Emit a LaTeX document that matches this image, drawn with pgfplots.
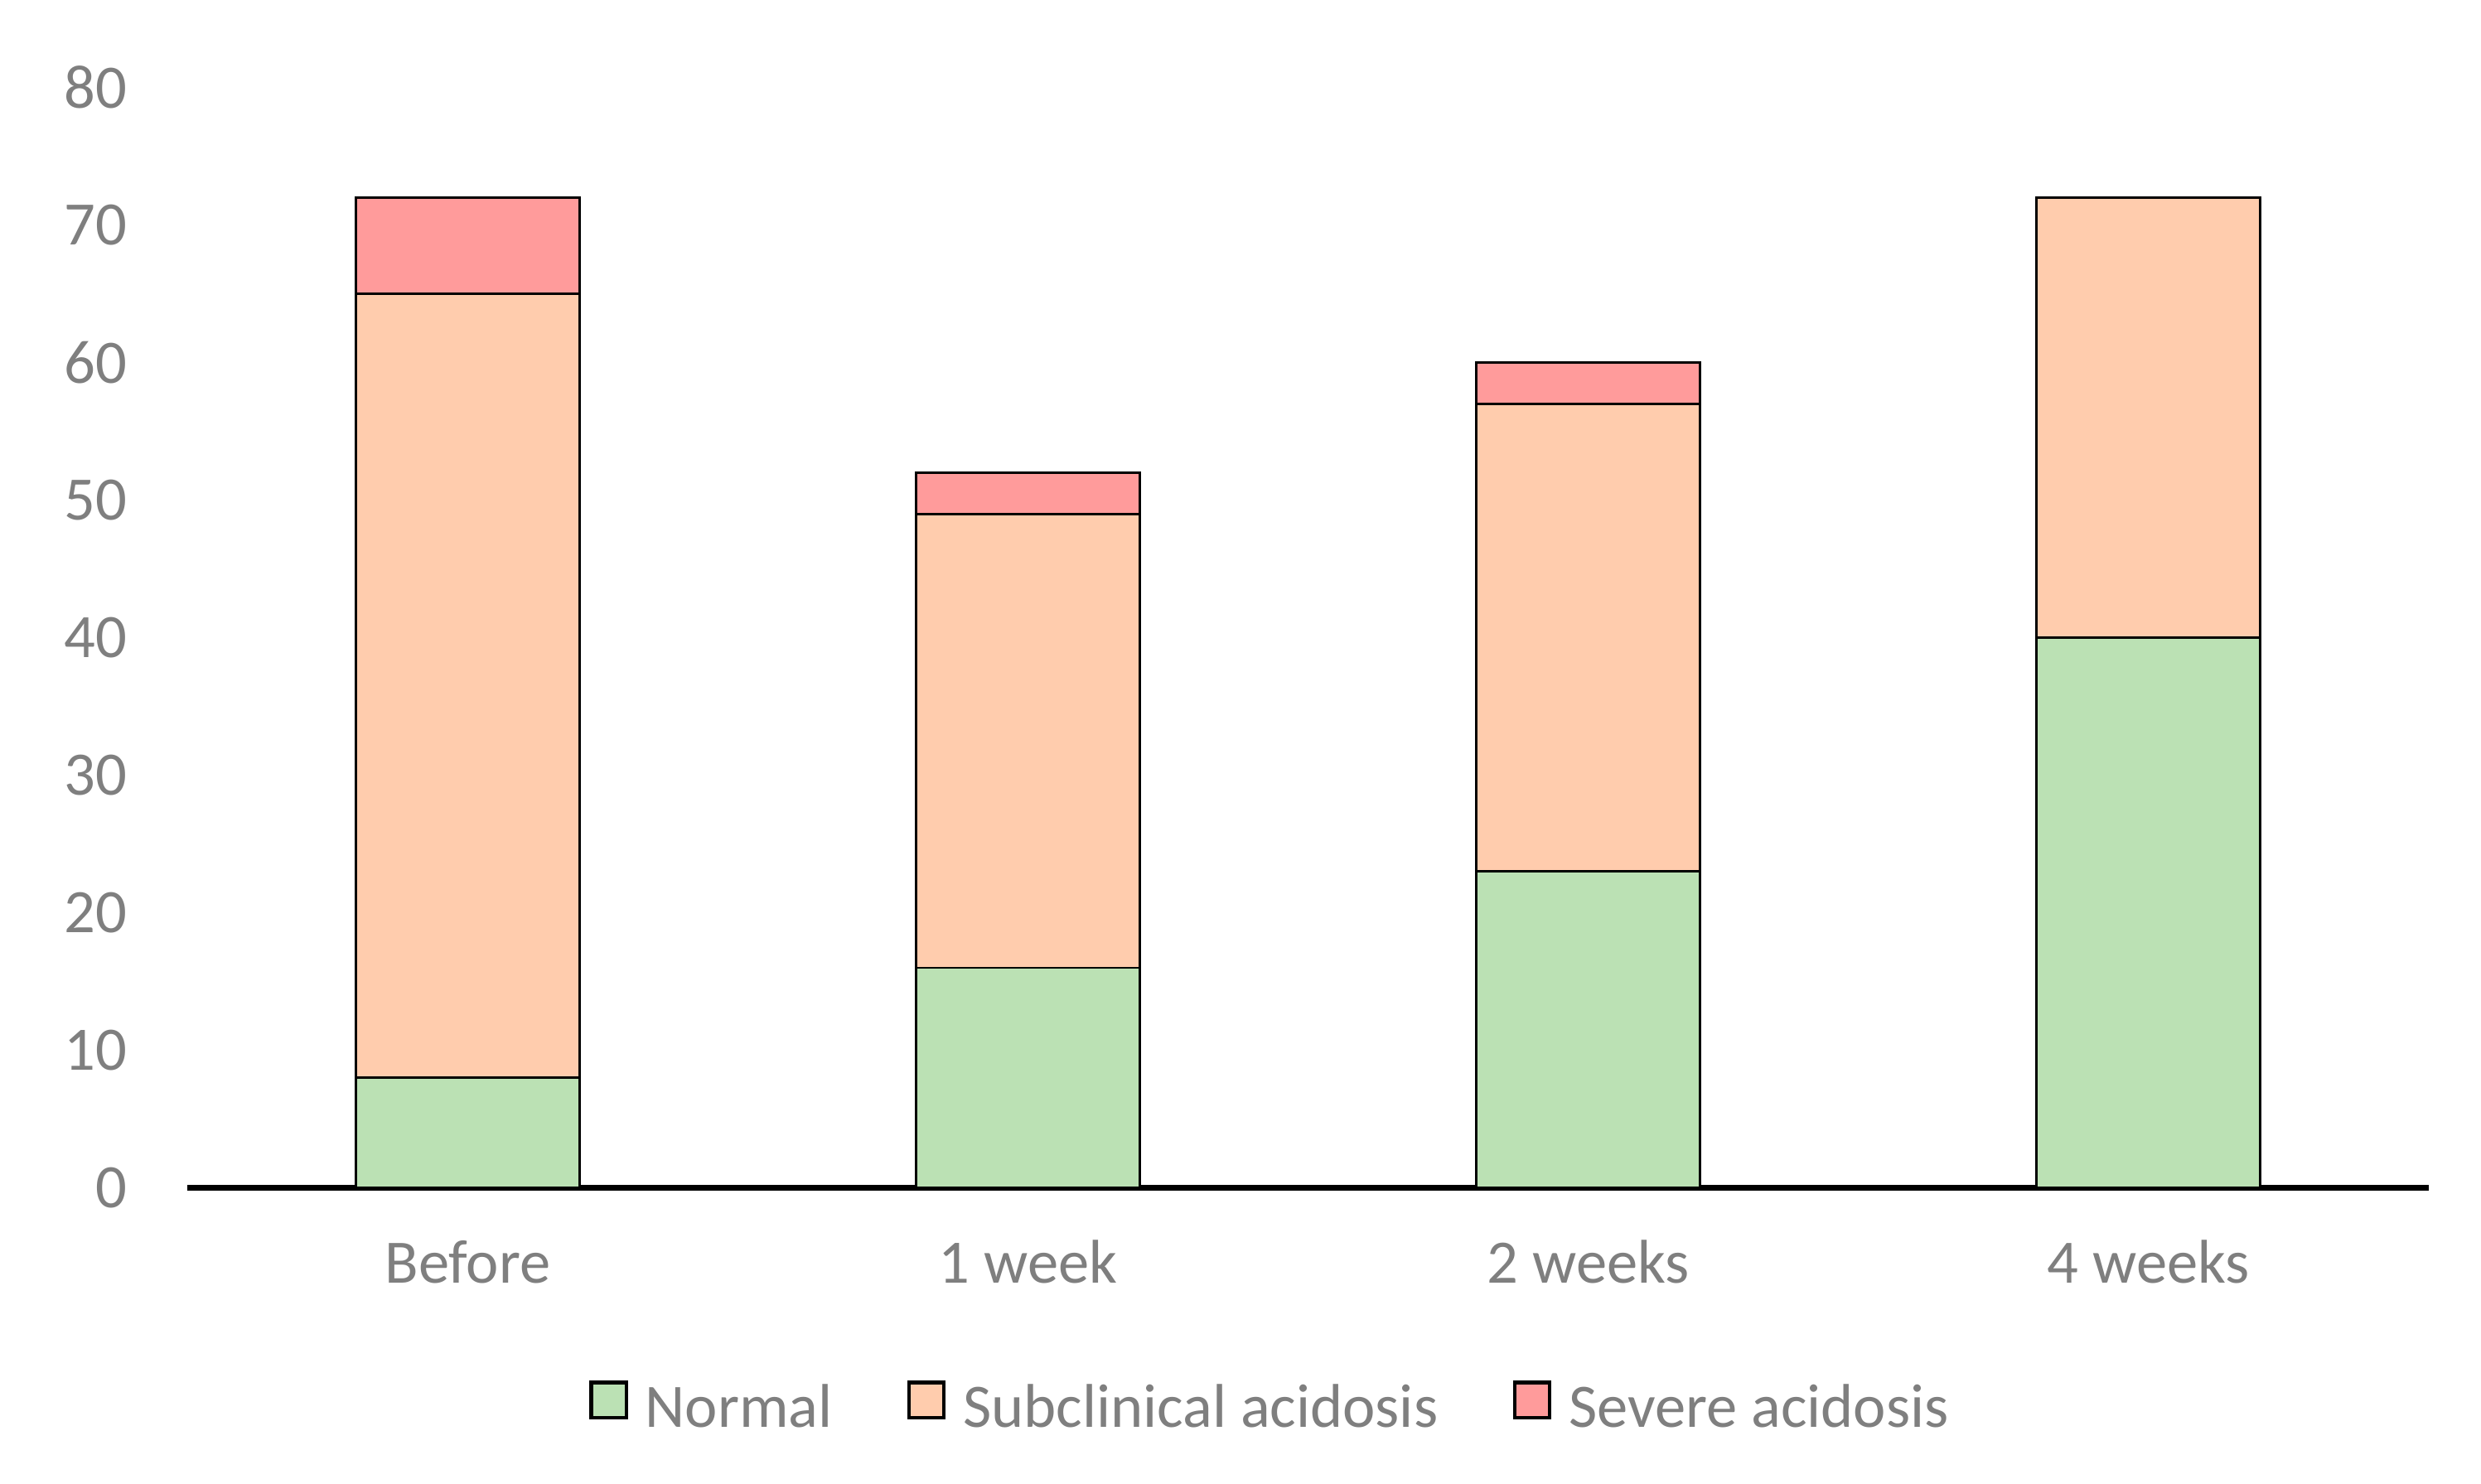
\documentclass[border=0pt]{standalone}
\usepackage{pgfplots}
\pgfplotsset{compat=1.18}
\usepackage{fontspec}
\setmainfont{Carlito}
\definecolor{normalc}{HTML}{BBE1B4}
\definecolor{subc}{HTML}{FFCCAD}
\definecolor{sevc}{HTML}{FF9B9B}
\definecolor{txt}{HTML}{7F7F7F}

\begin{document}
\begin{tikzpicture}
\useasboundingbox (-59bp,-93bp) rectangle (721bp,373.5bp);
\begin{axis}[
  scale only axis, width=704.5bp, height=346bp,
  clip=false,
  ybar stacked, bar width=0.4,
  xmin=-0.5, xmax=3.5, ymin=0, ymax=80,
  xtick=data, xticklabels={Before,1 week,2 weeks,4 weeks},
  ytick={0,10,...,80},
  axis line style={draw=none},
  major tick length=0pt,
  tick style={draw=none},
  /pgf/number format/assume math mode=true,
  ticklabel style={font=\fontsize{19.5}{23}\selectfont, text=txt},
  yticklabel style={xshift=-15.5bp},
  xticklabel style={yshift=-13bp},
  legend style={draw=none, at={(0.484,-0.2)}, anchor=center,
    font=\fontsize{19.5}{23}\selectfont, text=txt, legend columns=3,
    /tikz/every even column/.append style={column sep=21.5bp}},
  every axis plot post/.append style={draw=black, line width=0.75bp,
    legend image code/.code={\draw[#1, line width=1.1bp] (0bp,-3bp) rectangle (11bp,8bp);
      \path[draw=none, fill=none] (0bp,0bp) -- (15bp,0bp);}},
]
\addplot[fill=normalc] coordinates {(0,8) (1,16) (2,23) (3,40)};
\addplot[fill=subc] coordinates {(0,57) (1,33) (2,34) (3,32)};
\addplot[fill=sevc] coordinates {(0,7) (1,3) (2,3) (3,0)};
\legend{Normal, Subclinical acidosis, Severe acidosis}
\draw[black, line width=1.8bp] (rel axis cs:0,0) -- (rel axis cs:1,0);
\end{axis}
\end{tikzpicture}
\end{document}
